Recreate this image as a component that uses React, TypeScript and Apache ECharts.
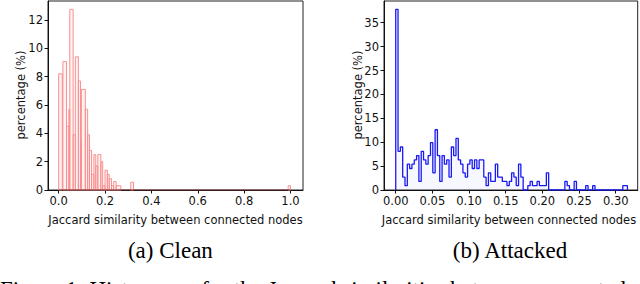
import React, { useEffect, useRef } from "react";
import * as echarts from "echarts";

// ---- Data ----
// (a) Clean: histogram bin edges and bar heights (percentage)
const leftEdges = [
  0, 0.0156, 0.0184, 0.034, 0.044, 0.048, 0.0624, 0.072, 0.085, 0.094, 0.098,
  0.115, 0.125, 0.133, 0.142, 0.152, 0.16, 0.169, 0.182, 0.19, 0.2, 0.21,
  0.218, 0.228, 0.237, 0.248, 0.268, 0.311, 0.323, 0.99, 1.0,
];
const leftHeights = [
  8.2, 0, 9.06, 4.5, 5.7, 12.75, 3.9, 9.4, 7.7, 3.4, 7.1, 5.7, 3.9, 2.8, 1.1,
  2.5, 1.7, 2.5, 2.0, 0.3, 1.4, 1.1, 0.8, 0.3, 0.6, 0.3, 0, 0.55, 0, 0.3,
];

// (b) Attacked: uniform bins, heights (percentage)
const rightBinWidth = 0.00316;
const rightHeights = [
  37.8, 8.1, 9.0, 2.7, 0.9, 5.4, 4.5, 5.4, 6.3, 7.2, 1.8, 8.1, 6.3, 5.4, 7.2,
  9.9, 3.6, 12.6, 7.2, 1.8, 7.2, 5.4, 6.3, 2.7, 9.0, 7.2, 10.8, 6.3, 5.4, 3.6,
  2.7, 5.4,
  6.3, 4.5, 6.3, 4.5, 6.3, 6.3, 2.7, 0.9, 3.6, 1.8, 1.8, 5.4, 2.7, 2.7, 1.8,
  1.8, 0.9, 1.8, 3.6, 2.7, 0.9, 5.4, 2.7, 0, 0, 0.9, 1.8, 0.9, 0.9, 1.8, 0.9,
  0.9, 0.9, 3.6,
  0, 0, 0, 0, 0, 0, 0,
  1.8, 0.9, 0, 0, 1.8, 0, 0, 0, 0, 0.9, 0, 0, 0.9,
  0, 0, 0, 0, 0, 0, 0, 0, 0, 0, 0, 0,
  0.9, 0.9,
];

const leftXTicks = [0, 0.2, 0.4, 0.6, 0.8, 1.0];
const leftYTicks = [0, 2, 4, 6, 8, 10, 12];
const rightXTicks = [0, 0.05, 0.1, 0.15, 0.2, 0.25, 0.3];
const rightYTicks = [0, 5, 10, 15, 20, 25, 30, 35];

const xName = "Jaccard similarity between connected nodes";
const yName = "percentage (%)";
const captionA = "(a) Clean";
const captionB = "(b) Attacked";
const figureCaption =
  "Figure 1: Histograms for the Jaccard similarities between connected nodes";

const FONT = "DejaVu Sans";
const SERIF = "Liberation Serif";
const TXT = "#111";

function makeAxis(
  gridIndex: number,
  min: number,
  max: number,
  ticks: number[],
  fmt: (v: number) => string
) {
  return {
    type: "value",
    gridIndex,
    min,
    max,
    axisLine: { show: true, onZero: false, lineStyle: { color: "#111", width: 1 } },
    axisTick: {
      show: true,
      length: 3.5,
      customValues: ticks,
      lineStyle: { color: "#111", width: 1 },
    },
    axisLabel: {
      show: true,
      customValues: ticks,
      formatter: (v: number) => fmt(v),
      color: TXT,
      fontFamily: FONT,
      fontSize: 11.5,
      margin: 5,
    },
    splitLine: { show: false },
  };
}

function label(
  text: string,
  x: number,
  y: number,
  family: string,
  size: number,
  align: string,
  rotation = 0
) {
  return {
    type: "text",
    x,
    y,
    rotation,
    silent: true,
    style: {
      text,
      fontFamily: family,
      fontSize: size,
      fill: family === SERIF ? "#000" : TXT,
      align,
      verticalAlign: "middle",
      textAlign: align,
      textVerticalAlign: "middle",
    },
  };
}

export default function App() {
  const ref = useRef<HTMLDivElement>(null);

  useEffect(() => {
    if (!ref.current) return;
    const chart = echarts.init(ref.current, null, {
      renderer: "svg",
      width: 640,
      height: 284,
    });

    const leftData = leftHeights.map((h, i) => [leftEdges[i], leftEdges[i + 1], h]);

    const rightData: number[][] = [[0, 0]];
    rightHeights.forEach((h, i) => rightData.push([i * rightBinWidth, h]));
    rightData.push([rightHeights.length * rightBinWidth, 0]);

    const option: any = {
      animation: false,
      grid: [
        {
          left: 48,
          top: 1,
          width: 255,
          height: 189,
          show: true,
          borderColor: "#222",
          borderWidth: 1,
          backgroundColor: "transparent",
        },
        {
          left: 384,
          top: 1,
          width: 253.7,
          height: 189,
          show: true,
          borderColor: "#222",
          borderWidth: 1,
          backgroundColor: "transparent",
        },
      ],
      xAxis: [
        makeAxis(0, -0.046, 1.054, leftXTicks, (v) => v.toFixed(1)),
        makeAxis(1, -0.016, 0.33, rightXTicks, (v) => v.toFixed(2)),
      ],
      yAxis: [
        makeAxis(0, 0, 13.34, leftYTicks, (v) => String(Math.round(v))),
        makeAxis(1, 0, 39.54, rightYTicks, (v) => String(Math.round(v))),
      ],
      series: [
        {
          type: "custom",
          xAxisIndex: 0,
          yAxisIndex: 0,
          encode: { x: [0, 1], y: 2 },
          data: leftData,
          renderItem: (params: any, api: any) => {
            const x0 = api.value(0);
            const x1 = api.value(1);
            const h = api.value(2);
            if (!(h > 0)) return { type: "group", children: [] };
            const p0 = api.coord([x0, h]);
            const p1 = api.coord([x1, 0]);
            return {
              type: "rect",
              shape: {
                x: p0[0],
                y: p0[1],
                width: p1[0] - p0[0],
                height: p1[1] - p0[1],
              },
              style: {
                fill: "rgba(255,175,175,0.16)",
                stroke: "#f99090",
                lineWidth: 1,
              },
            };
          },
          z: 3,
        },
        {
          type: "line",
          xAxisIndex: 0,
          yAxisIndex: 0,
          data: [
            [leftEdges[0], 0],
            [leftEdges[leftEdges.length - 1], 0],
          ],
          symbol: "none",
          lineStyle: { color: "#8e3b3b", width: 1 },
          z: 4,
        },
        {
          type: "line",
          xAxisIndex: 1,
          yAxisIndex: 1,
          data: rightData,
          step: "end",
          symbol: "none",
          lineStyle: { color: "#1a1af5", width: 1.3 },
          areaStyle: { color: "rgba(90,90,255,0.07)" },
          z: 3,
        },
      ],
      graphic: [
        label(yName, 20.8, 95, FONT, 11.5, "center", Math.PI / 2),
        label(yName, 357.5, 95, FONT, 11.5, "center", Math.PI / 2),
        label(xName, 175.5, 220, FONT, 11.5, "center"),
        label(xName, 509, 220, FONT, 11.5, "center"),
        label(captionA, 170.4, 250, SERIF, 23, "center"),
        label(captionB, 510, 250, SERIF, 23, "center"),
        label(figureCaption, 0, 289.5, SERIF, 23, "left"),
      ],
    };

    chart.setOption(option);
    return () => chart.dispose();
  }, []);

  return (
    <div
      ref={ref}
      style={{
        position: "fixed",
        left: 0,
        top: 0,
        width: 640,
        height: 284,
        background: "#fff",
      }}
    />
  );
}
